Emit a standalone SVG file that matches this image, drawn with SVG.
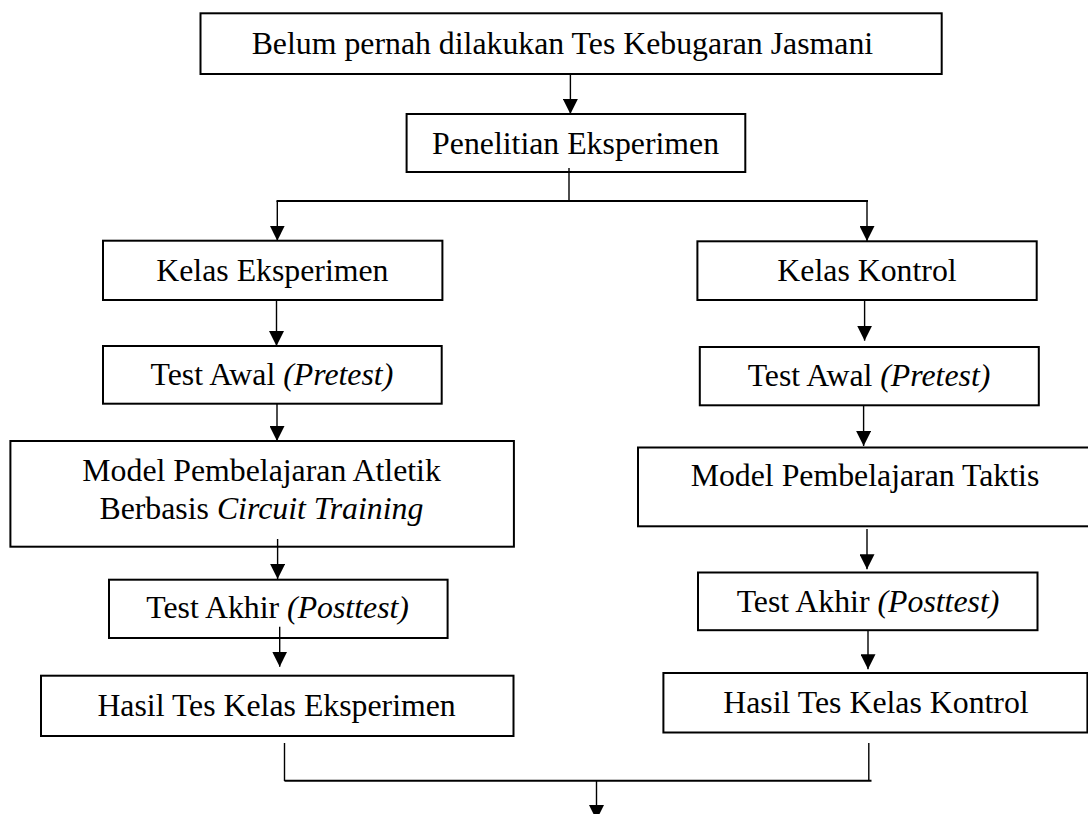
<svg xmlns="http://www.w3.org/2000/svg" width="1088" height="814" viewBox="0 0 1088 814">
<defs>
<marker id="ah" viewBox="0 0 15 15" refX="15" refY="7.5" markerWidth="15" markerHeight="15" markerUnits="userSpaceOnUse" orient="auto">
<path d="M0,0 L15,7.5 L0,15 z" fill="#000"/>
</marker>
<style>
.box{fill:#fff;stroke:#000;stroke-width:2}
.t{font-family:"Liberation Serif","Times New Roman",serif;font-size:31.8px;fill:#000;text-anchor:middle}
.i{font-style:italic}
.c{fill:none;stroke:#000;stroke-width:1.4}
.a{fill:none;stroke:#000;stroke-width:1.4;marker-end:url(#ah)}
.h{fill:none;stroke:#000;stroke-width:2}
</style>
</defs>
<rect width="1088" height="814" fill="#fff"/>

<g id="n-top">
<rect class="box" x="200.5" y="13.3" width="741.2" height="60.7"/>
<text class="t" x="562.4" y="53.5">Belum pernah dilakukan Tes Kebugaran Jasmani</text>
</g>
<g id="n-penelitian">
<rect class="box" x="406.6" y="114" width="338.7" height="58"/>
<text class="t" x="575.6" y="154">Penelitian Eksperimen</text>
</g>
<g id="n-kelas-eksperimen">
<rect class="box" x="103" y="240.7" width="339.4" height="59.3"/>
<text class="t" x="272.4" y="280.7">Kelas Eksperimen</text>
</g>
<g id="n-kelas-kontrol">
<rect class="box" x="697.4" y="241.3" width="339.3" height="58.7"/>
<text class="t" x="867" y="280.7">Kelas Kontrol</text>
</g>
<g id="n-pretest-eksperimen">
<rect class="box" x="103" y="346" width="338.7" height="57.7"/>
<text class="t" x="271.9" y="385">Test Awal <tspan class="i">(Pretest)</tspan></text>
</g>
<g id="n-pretest-kontrol">
<rect class="box" x="699.8" y="347" width="339" height="58.3"/>
<text class="t" x="869" y="386">Test Awal <tspan class="i">(Pretest)</tspan></text>
</g>
<g id="n-model-atletik">
<rect class="box" x="10.4" y="441" width="503.5" height="105.7"/>
<text class="t" x="261.6" y="480.7">Model Pembelajaran Atletik</text>
<text class="t" x="261.4" y="519">Berbasis <tspan class="i">Circuit Training</tspan></text>
</g>
<g id="n-model-taktis">
<rect class="box" x="638" y="447.5" width="454" height="78.8"/>
<text class="t" x="865" y="486">Model Pembelajaran Taktis</text>
</g>
<g id="n-posttest-eksperimen">
<rect class="box" x="109" y="579.7" width="338.6" height="58.3"/>
<text class="t" x="277.6" y="618">Test Akhir <tspan class="i">(Posttest)</tspan></text>
</g>
<g id="n-posttest-kontrol">
<rect class="box" x="698" y="572.5" width="339.5" height="57.7"/>
<text class="t" x="868" y="611.5">Test Akhir <tspan class="i">(Posttest)</tspan></text>
</g>
<g id="n-hasil-eksperimen">
<rect class="box" x="41" y="675.7" width="472.5" height="60.3"/>
<text class="t" x="276.6" y="715.5">Hasil Tes Kelas Eksperimen</text>
</g>
<g id="n-hasil-kontrol">
<rect class="box" x="663.4" y="673" width="424" height="59.5"/>
<text class="t" x="876" y="712.5">Hasil Tes Kelas Kontrol</text>
</g>

<g id="connectors">
<line class="a" x1="570.4" y1="74" x2="570.4" y2="114"/>
<line class="c" x1="569" y1="168" x2="569" y2="201"/>
<line class="h" x1="276.5" y1="201" x2="868" y2="201"/>
<line class="a" x1="277.3" y1="201" x2="277.3" y2="240.7"/>
<line class="a" x1="867" y1="201" x2="867" y2="241"/>
<line class="a" x1="276.5" y1="300" x2="276.5" y2="346"/>
<line class="a" x1="277" y1="404" x2="277" y2="441"/>
<line class="a" x1="864.6" y1="300" x2="864.6" y2="340.7"/>
<line class="a" x1="863.6" y1="405" x2="863.6" y2="446"/>
<line class="a" x1="277.6" y1="539" x2="277.6" y2="579"/>
<line class="a" x1="279.7" y1="626.7" x2="279.7" y2="666.7"/>
<line class="a" x1="867" y1="529" x2="867" y2="569.3"/>
<line class="a" x1="868" y1="630" x2="868" y2="669.3"/>
<line class="c" x1="284.5" y1="743" x2="284.5" y2="781"/>
<line class="c" x1="868.8" y1="743" x2="868.8" y2="781"/>
<line class="h" x1="284.5" y1="780.7" x2="871.5" y2="780.7"/>
<line class="a" x1="596.5" y1="780.7" x2="596.5" y2="820"/>
</g>
</svg>
